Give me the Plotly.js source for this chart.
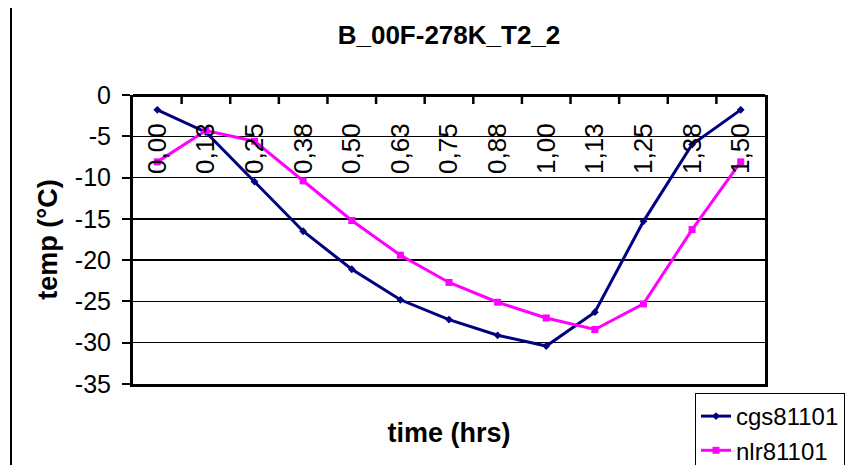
<!DOCTYPE html>
<html>
<head>
<meta charset="utf-8">
<script src="https://cdn.plot.ly/plotly-3.0.1.min.js"></script>
<style>html,body{margin:0;padding:0;background:#fff;}#chart{width:848px;height:465px;}</style>
</head>
<body>
<div id="chart"></div>
<script>
// Categories (time in hrs, shown with comma decimal)
const timeLabels = ["0,00","0,13","0,25","0,38","0,50","0,63","0,75","0,88","1,00","1,13","1,25","1,38","1,50"];
// Series values (°C)
const cgs81101 = [-1.8, -4.5, -10.5, -16.5, -21.1, -24.8, -27.2, -29.1, -30.4, -26.3, -15.3, -6.0, -1.8];
const nlr81101 = [-8.1, -4.3, -5.6, -10.4, -15.2, -19.4, -22.7, -25.1, -27.0, -28.4, -25.3, -16.3, -8.1];
const yTicks = [0, -5, -10, -15, -20, -25, -30, -35];

const font = "Arial, 'Liberation Sans', sans-serif";
const plotH = 465 - 95 - 81;

const traces = [
  {
    x: timeLabels, y: cgs81101, name: "cgs81101", type: "scatter", mode: "lines+markers",
    line: {color: "#000080", width: 3},
    marker: {color: "#000080", symbol: "diamond", size: 6}
  },
  {
    x: timeLabels, y: nlr81101, name: "nlr81101", type: "scatter", mode: "lines+markers",
    line: {color: "#FF00FF", width: 3},
    marker: {color: "#FF00FF", symbol: "square", size: 7}
  },
  // empty helper trace so the bottom axis (frame line + axis title) is drawn
  {x: [], y: [], xaxis: "x2", yaxis: "y", type: "scatter", mode: "lines", showlegend: false, hoverinfo: "skip"}
];

// tick marks between categories on the top (value-0) category axis
const boundaryTickShapes = timeLabels.slice(1).map((_, i) => ({
  type: "line", xref: "x", yref: "paper",
  x0: i + 0.5, x1: i + 0.5, y0: 1, y1: 1 - 9 / plotH,
  line: {color: "#000", width: 2.5}
}));

const layout = {
  width: 848, height: 465,
  margin: {l: 133, r: 83, t: 95, b: 81, autoexpand: false},
  paper_bgcolor: "#ffffff", plot_bgcolor: "#ffffff",
  font: {family: font, color: "#000"},
  showlegend: true,
  title: {
    text: "<b>B_00F-278K_T2_2</b>",
    font: {family: font, size: 26, color: "#000"},
    x: 0.5, xref: "paper", xanchor: "center",
    y: 1 - 35/465, yref: "container", yanchor: "middle"
  },
  xaxis: {
    type: "category",
    side: "bottom", anchor: "free", position: 1,
    range: [-0.5, 12.5],
    showline: true, linecolor: "#000", linewidth: 3,
    ticks: "",
    ticklabelstandoff: 16,
    tickangle: -90,
    tickfont: {family: font, size: 26, color: "#000"},
    showgrid: false, zeroline: false, fixedrange: true
  },
  xaxis2: {
    overlaying: "x", anchor: "y", side: "bottom",
    range: [0, 1],
    showline: true, linecolor: "#000", linewidth: 3,
    ticks: "", showticklabels: false, showgrid: false, zeroline: false,
    title: {text: "<b>time (hrs)</b>", font: {family: font, size: 27, color: "#000"}, standoff: 38},
    fixedrange: true
  },
  yaxis: {
    range: [-35, 0],
    tickvals: yTicks,
    ticktext: yTicks.map(String),
    showline: true, linecolor: "#000", linewidth: 3, mirror: true,
    ticks: "outside", ticklen: 8, tickwidth: 2, tickcolor: "#000",
    ticklabelstandoff: 6,
    tickfont: {family: font, size: 25, color: "#000"},
    showgrid: true, gridcolor: "#000", gridwidth: 1.5,
    zeroline: false,
    title: {text: "<b>temp (°C)</b>", font: {family: font, size: 27, color: "#000"}, standoff: 10},
    fixedrange: true
  },
  legend: {
    x: (695 - 133) / 632, xanchor: "left",
    y: (384 - 393) / 289, yanchor: "top",
    bgcolor: "#fff", bordercolor: "#000", borderwidth: 1,
    font: {family: font, size: 24, color: "#000"},
    itemwidth: 30, tracegroupgap: 0
  },
  shapes: [
    {type: "line", xref: "paper", yref: "paper",
     x0: (11 - 133) / 632, x1: (11 - 133) / 632,
     y0: (384 - 8) / 289, y1: (384 - 470) / 289,
     line: {color: "#000", width: 2}}
  ].concat(boundaryTickShapes)
};

Plotly.newPlot("chart", traces, layout, {staticPlot: true, displayModeBar: false});
</script>
</body>
</html>
